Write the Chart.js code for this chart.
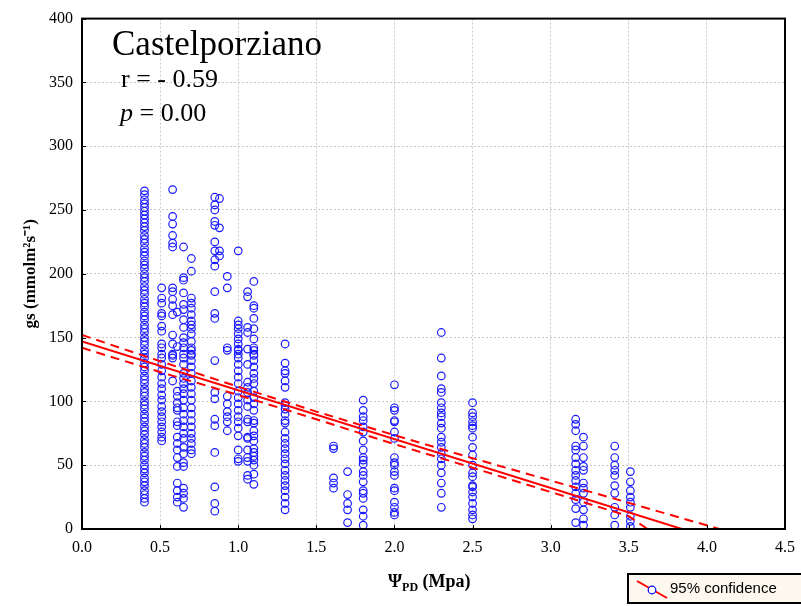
<!DOCTYPE html>
<html>
<head>
<meta charset="utf-8">
<script src="https://cdn.jsdelivr.net/npm/chart.js@4"></script>
<style>
  body { margin: 0; background: #fff; overflow: hidden; }
  #wrap { position: relative; width: 801px; height: 606px; }
  .note { position: absolute; font-family: "Liberation Serif", "Times New Roman", serif; color: #000; white-space: nowrap; line-height: 1; }
  #xTitle { position: absolute; left: 388px; top: 571px; font-family: "Liberation Serif", serif; font-weight: bold; font-size: 18px; white-space: nowrap; }
  #xTitle sub { font-size: 12px; vertical-align: -4px; }
  #legendBox { position: absolute; left: 627px; top: 573px; width: 190px; height: 27px; border: 2px solid #000; background: #fdf8ee; font-family: "Liberation Sans", Arial, sans-serif; font-size: 15px; }
  #legendBox svg { position: absolute; left: 6px; top: 3px; }
  #legendBox span { position: absolute; left: 41px; top: 4px; }
</style>
</head>
<body>
<div id="wrap">
  <canvas id="chart" width="801" height="606"></canvas>
  <div class="note" style="left:112px; top:26px; font-size:35px;">Castelporziano</div>
  <div class="note" style="left:121px; top:66px; font-size:26px;">r = - 0.59</div>
  <div class="note" style="left:120px; top:100px; font-size:26px;"><i>p</i> = 0.00</div>
  <div id="xTitle">&Psi;<sub>PD</sub> (Mpa)</div>
  <div id="legendBox">
    <svg width="34" height="22">
      <line x1="2" y1="3" x2="32" y2="20" stroke="#ff0000" stroke-width="2"/>
      <circle cx="17" cy="12" r="3.8" fill="#fff" stroke="#0000ff" stroke-width="1.2"/>
    </svg>
    <span>95% confidence</span>
  </div>
</div>
<script>
// water potential columns (MPa) and measured gs for each column
const psiColumns = [0.4, 0.51, 0.58, 0.61, 0.65, 0.7, 0.85, 0.88, 0.93, 1.0, 1.06, 1.1,
  1.3, 1.61, 1.7, 1.8, 2.0, 2.3, 2.5, 3.16, 3.21, 3.41, 3.51];
const gsColumns = [
  [265, 262, 258, 255, 252, 249, 246, 243, 240, 237, 234, 230, 227, 224, 220, 217, 214, 210, 207, 204,
    200, 197, 194, 190, 187, 184, 180, 177, 174, 170, 167, 164, 160, 157, 154, 150, 147, 144, 140, 137,
    134, 130, 127, 124, 120, 117, 114, 110, 107, 104, 100, 97, 94, 90, 87, 84, 80, 77, 74, 70,
    67, 64, 60, 57, 54, 50, 47, 44, 40, 37, 34, 30, 27, 24, 21],
  [189, 181, 177, 169, 167, 159, 155, 145, 142, 137, 134, 129, 124, 119, 114, 110, 105, 101, 96, 92,
    88, 84, 80, 76, 72, 69],
  [266, 245, 239, 230, 224, 221, 189, 186, 180, 175, 168, 152, 145, 137, 136, 134, 116],
  [170, 143, 108, 104, 99, 95, 93, 84, 81, 72, 67, 62, 56, 49, 36, 30, 25, 21],
  [221, 197, 195, 185, 176, 172, 164, 158, 150, 146, 142, 137, 134, 129, 122, 118, 114, 110, 106, 101,
    95, 90, 85, 80, 75, 71, 64, 59, 52, 49, 32, 28, 24, 17],
  [212, 202, 181, 177, 173, 168, 163, 160, 157, 153, 147, 142, 140, 137, 136, 132, 127, 122, 116, 111,
    106, 101, 95, 90, 85, 80, 75, 71, 67, 62, 59],
  [260, 254, 250, 241, 238, 225, 218, 211, 206, 186, 169, 165, 132, 107, 102, 86, 81, 60, 33, 20, 14],
  [259, 236, 218, 214],
  [198, 189, 142, 140, 104, 98, 92, 88, 84, 77],
  [218, 163, 160, 157, 153, 149, 145, 141, 140, 137, 134, 129, 124, 119, 114, 108, 103, 98, 93, 88,
    84, 79, 73, 62, 55, 53],
  [186, 182, 158, 154, 141, 129, 115, 111, 107, 101, 96, 86, 84, 72, 71, 62, 56, 53, 42, 39],
  [194, 175, 173, 165, 157, 149, 142, 140, 137, 136, 132, 127, 122, 118, 114, 108, 103, 98, 93, 85,
    83, 77, 73, 69, 63, 60, 57, 54, 50, 43, 35],
  [145, 130, 124, 122, 116, 111, 99, 97, 94, 90, 85, 83, 76, 71, 67, 63, 59, 55, 51, 46,
    42, 38, 34, 30, 25, 20, 15],
  [65, 63, 40, 36, 32],
  [45, 27, 20, 15, 5],
  [101, 93, 88, 85, 80, 76, 69, 62, 56, 54, 51, 45, 42, 37, 30, 28, 24, 15, 10, 3],
  [113, 95, 93, 85, 84, 76, 71, 56, 52, 50, 45, 42, 32, 30, 21, 17, 13, 11],
  [154, 134, 120, 110, 107, 99, 95, 91, 88, 83, 79, 72, 68, 64, 59, 55, 50, 44, 36, 28, 17],
  [99, 91, 88, 84, 81, 79, 72, 64, 58, 50, 44, 41, 34, 33, 29, 25, 20, 15, 11, 8],
  [86, 82, 77, 65, 62, 56, 51, 46, 42, 38, 33, 28, 23, 16, 5],
  [72, 65, 56, 49, 46, 36, 32, 28, 21, 15, 8, 3],
  [65, 56, 50, 46, 42, 34, 28, 17, 11, 3],
  [45, 37, 30, 25, 21, 17, 10, 6, 2]
];

// fitted line and 95% band
const fitX = [0, 3.84];
const fitY = [147, 0];
const upperX = [0, 0.5, 1.0, 1.5, 2.0, 2.5, 3.0, 3.5, 4.08];
const upperY = [152, 131.5, 111.5, 92, 73.5, 55.5, 38, 20.5, 0];
const lowerX = [0, 0.5, 1.0, 1.5, 2.0, 2.5, 3.0, 3.5, 3.62];
const lowerY = [142, 123, 105, 86, 66.5, 48, 29, 10, 0];

const xTicks = [0, 0.5, 1, 1.5, 2, 2.5, 3, 3.5, 4, 4.5];
const yTicks = [0, 50, 100, 150, 200, 250, 300, 350, 400];

const toPoints = (xs, ys) => xs.map((x, i) => ({ x, y: ys[i] }));
const scatterPoints = psiColumns.flatMap((x, i) => gsColumns[i].map((y) => ({ x, y })));

const serif = '"Liberation Serif", "Times New Roman", serif';

const frame = {
  id: 'frame',
  afterDatasetsDraw(chart) {
    const { ctx, chartArea: a, scales } = chart;
    ctx.save();
    ctx.strokeStyle = '#000';
    ctx.lineWidth = 1;
    xTicks.forEach((v) => {
      const px = Math.round(scales.x.getPixelForValue(v)) + 0.5;
      ctx.beginPath(); ctx.moveTo(px, a.bottom); ctx.lineTo(px, a.bottom - 4); ctx.stroke();
    });
    yTicks.forEach((v) => {
      const py = Math.round(scales.y.getPixelForValue(v)) + 0.5;
      ctx.beginPath(); ctx.moveTo(a.left, py); ctx.lineTo(a.left + 4, py); ctx.stroke();
    });
    ctx.lineWidth = 2;
    ctx.strokeRect(a.left, a.top, a.right - a.left, a.bottom - a.top);
    ctx.restore();
  },
};

new Chart(document.getElementById('chart'), {
  type: 'scatter',
  data: {
    datasets: [
      {
        label: 'fit', data: toPoints(fitX, fitY), showLine: true, pointRadius: 0,
        borderColor: '#ff0000', borderWidth: 2, order: 1,
      },
      {
        label: 'upper', data: toPoints(upperX, upperY), showLine: true, pointRadius: 0,
        borderColor: '#ff0000', borderWidth: 2, borderDash: [9, 6], order: 1,
      },
      {
        label: 'lower', data: toPoints(lowerX, lowerY), showLine: true, pointRadius: 0,
        borderColor: '#ff0000', borderWidth: 2, borderDash: [9, 6], order: 1,
      },
      {
        label: '95% confidence', data: scatterPoints, pointRadius: 3.8,
        pointBackgroundColor: 'rgba(0,0,0,0)', pointBorderColor: '#1a1aff', pointBorderWidth: 1.2, order: 2,
      },
    ],
  },
  options: {
    responsive: false,
    animation: false,
    events: [],
    layout: { padding: { top: 16, right: 16, left: 0, bottom: 0 } },
    plugins: { legend: { display: false }, tooltip: { enabled: false } },
    scales: {
      x: {
        type: 'linear', min: 0, max: 4.5,
        afterFit: (s) => { s.height = 77; s.paddingRight = 0; },
        afterBuildTicks: (s) => { s.ticks = xTicks.map((value) => ({ value })); },
        ticks: { color: '#000', font: { family: serif, size: 16 }, padding: 9, maxRotation: 0,
          callback: (v) => Number(v).toFixed(1) },
        grid: { color: '#c8c8c8', drawTicks: false },
        border: { display: false, dash: [2, 2] },
      },
      y: {
        type: 'linear', min: 0, max: 400,
        afterFit: (s) => { s.width = 82; },
        afterBuildTicks: (s) => { s.ticks = yTicks.map((value) => ({ value })); },
        ticks: { color: '#000', font: { family: serif, size: 16 }, padding: 9 },
        grid: { color: '#c8c8c8', drawTicks: false },
        border: { display: false, dash: [2, 2] },
        title: { display: true, text: 'gs (mmolm²s⁻¹)', color: '#000',
          font: { family: serif, size: 17, weight: 'bold' }, padding: { top: 20, bottom: 0 } },
      },
    },
  },
  plugins: [frame],
});
</script>
</body>
</html>
